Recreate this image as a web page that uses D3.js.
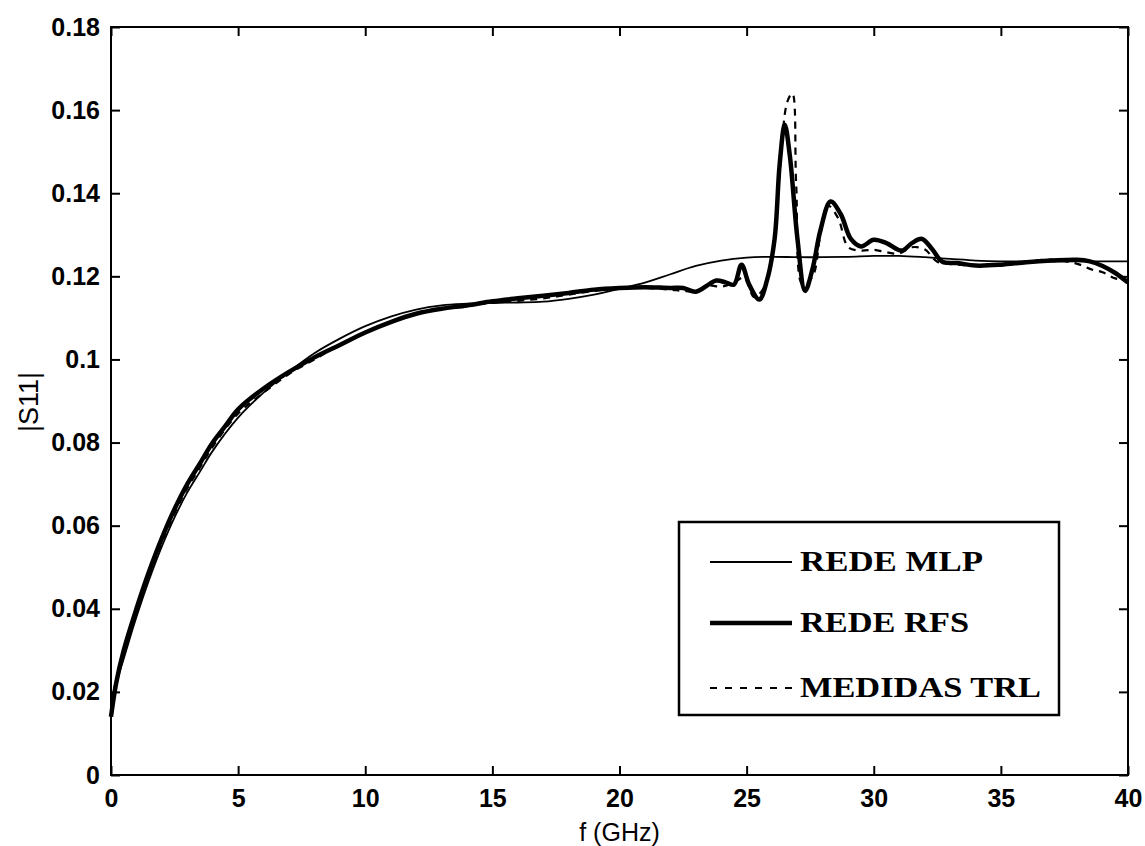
<!DOCTYPE html>
<html>
<head>
<meta charset="utf-8">
<script src="https://cdn.jsdelivr.net/npm/d3@7"></script>
<style>
  html, body { margin: 0; padding: 0; background: #fff; }
  svg { display: block; }
</style>
</head>
<body>
<svg id="chart" width="1145" height="846"></svg>
<script>
// |S11| versus frequency for three models / measurements

const xTicks = [0, 5, 10, 15, 20, 25, 30, 35, 40];
const yTicks = [0, 0.02, 0.04, 0.06, 0.08, 0.1, 0.12, 0.14, 0.16, 0.18];
const yTickLabels = ["0", "0.02", "0.04", "0.06", "0.08", "0.1", "0.12", "0.14", "0.16", "0.18"];

const seriesNames = ["REDE MLP", "REDE RFS", "MEDIDAS TRL"];

// REDE MLP (thin solid)
const freqMLP = [0, 0.5, 1, 1.5, 2, 2.5, 3, 3.5, 4, 5, 6, 7, 8, 9, 10, 11, 12, 13, 14, 15, 16, 17, 18, 19, 20, 21, 22, 23, 24, 25, 26, 27, 28, 29, 30, 31, 32, 33, 34, 35, 36, 37, 38, 39, 40];
const mlp = [0.018, 0.028, 0.038, 0.047, 0.055, 0.062, 0.068, 0.073, 0.078, 0.086, 0.092, 0.097, 0.1015, 0.105, 0.108, 0.1103, 0.1120, 0.1130, 0.1134, 0.1136, 0.1137, 0.1139, 0.1146, 0.1156, 0.1170, 0.1185, 0.1205, 0.1225, 0.1238, 0.1245, 0.1247, 0.1246, 0.1246, 0.1247, 0.1249, 0.1249, 0.1246, 0.1242, 0.1238, 0.1236, 0.1236, 0.1236, 0.1236, 0.1236, 0.1236];

// REDE RFS (thick solid)
const freqRFS = [0, 0.2, 0.5, 1, 1.5, 2, 2.5, 3, 3.5, 4, 4.5, 5, 6, 7, 8, 9, 10, 11, 12, 13, 14, 15, 16, 17, 18, 19, 20, 21, 22, 22.5, 23, 23.5, 23.8, 24.2, 24.5, 24.8, 25.1, 25.5, 25.8, 26.1, 26.3, 26.5, 26.7, 27.0, 27.3, 27.6, 27.9, 28.3, 28.7, 29.1, 29.5, 30.0, 30.5, 31.1, 31.5, 31.9, 32.3, 32.7, 33.3, 34, 35, 36, 37, 38, 38.5, 39, 39.5, 40];
const rfs = [0.014, 0.022, 0.030, 0.040, 0.049, 0.057, 0.064, 0.070, 0.075, 0.080, 0.084, 0.088, 0.093, 0.097, 0.1005, 0.1035, 0.1065, 0.109, 0.111, 0.1122, 0.1130, 0.1140, 0.1147, 0.1153, 0.1160, 0.1168, 0.1172, 0.1174, 0.1172, 0.1172, 0.1163, 0.1180, 0.1190, 0.1185, 0.1180, 0.1228, 0.1180, 0.1144, 0.1190, 0.1290, 0.1470, 0.1565, 0.1490, 0.1290, 0.1165, 0.1220, 0.1310, 0.1380, 0.1350, 0.1290, 0.1272, 0.1288, 0.1280, 0.1262, 0.1280, 0.1290, 0.1265, 0.1235, 0.1232, 0.1226, 0.1228, 0.1234, 0.1238, 0.1240, 0.1236, 0.1225, 0.1208, 0.1185];

// MEDIDAS TRL (dashed)
const freqTRL = [0, 0.5, 1, 1.5, 2, 2.5, 3, 3.5, 4, 5, 6, 7, 8, 9, 10, 11, 12, 13, 14, 15, 16, 17, 18, 19, 20, 21, 22, 22.5, 23, 23.5, 24, 24.5, 24.9, 25.3, 25.7, 26.0, 26.3, 26.6, 26.8, 26.95, 27.2, 27.6, 27.9, 28.2, 28.6, 29.0, 29.5, 30, 30.5, 31, 31.5, 32, 32.5, 33, 34, 35, 36, 37, 38, 38.6, 39, 39.5, 40];
const trl = [0.018, 0.029, 0.039, 0.048, 0.056, 0.063, 0.069, 0.074, 0.079, 0.087, 0.092, 0.0965, 0.100, 0.1035, 0.1065, 0.109, 0.111, 0.1122, 0.1130, 0.1136, 0.1141, 0.1147, 0.1156, 0.1165, 0.1171, 0.1172, 0.1168, 0.1165, 0.1165, 0.1178, 0.1175, 0.1185, 0.1197, 0.1150, 0.1175, 0.1250, 0.1450, 0.1620, 0.1640, 0.1420, 0.1180, 0.1200, 0.1300, 0.1370, 0.1340, 0.1270, 0.1262, 0.1264, 0.1258, 0.1255, 0.1270, 0.1265, 0.1235, 0.1230, 0.1225, 0.1228, 0.1235, 0.1240, 0.1230, 0.1216, 0.1210, 0.1195, 0.1190];

const svg = d3.select("#chart");
const plotLeft = 111, plotRight = 1128, plotTop = 27, plotBottom = 775;

const x = d3.scaleLinear().domain([0, 40]).range([plotLeft, plotRight]);
const y = d3.scaleLinear().domain([0, 0.18]).range([plotBottom, plotTop]);

const axisFont = "'Liberation Sans', Arial, Helvetica, sans-serif";
const tickLen = 9;

// plot frame
svg.append("rect")
  .attr("x", plotLeft).attr("y", plotTop)
  .attr("width", plotRight - plotLeft).attr("height", plotBottom - plotTop)
  .attr("fill", "none").attr("stroke", "#000").attr("stroke-width", 2);

// inward ticks on all four sides
const xAxisB = d3.axisBottom(x).tickValues(xTicks).tickSizeInner(-tickLen).tickSizeOuter(0).tickPadding(14).tickFormat(d3.format("d"));
const xAxisT = d3.axisTop(x).tickValues(xTicks).tickSizeInner(-tickLen).tickSizeOuter(0).tickFormat("");
const yAxisL = d3.axisLeft(y).tickValues(yTicks).tickSizeInner(-tickLen).tickSizeOuter(0).tickPadding(11).tickFormat((d, i) => yTickLabels[i]);
const yAxisR = d3.axisRight(y).tickValues(yTicks).tickSizeInner(-tickLen).tickSizeOuter(0).tickFormat("");

function styleAxis(g) {
  g.select(".domain").remove();
  g.selectAll(".tick line").attr("stroke", "#000").attr("stroke-width", 2);
  g.selectAll(".tick text")
    .attr("fill", "#000")
    .style("font-family", axisFont)
    .style("font-weight", "bold")
    .style("font-size", "25px");
}

svg.append("g").attr("transform", `translate(0,${plotBottom})`).call(xAxisB).call(styleAxis);
svg.append("g").attr("transform", `translate(0,${plotTop})`).call(xAxisT).call(styleAxis);
svg.append("g").attr("transform", `translate(${plotLeft},0)`).call(yAxisL).call(styleAxis);
svg.append("g").attr("transform", `translate(${plotRight},0)`).call(yAxisR).call(styleAxis);

// axis titles
svg.append("text")
  .attr("x", x(20)).attr("y", 841)
  .attr("text-anchor", "middle")
  .style("font-family", axisFont).style("font-size", "25px")
  .text("f (GHz)");

svg.append("text")
  .attr("transform", `translate(38,402) rotate(-90)`)
  .attr("text-anchor", "middle")
  .style("font-family", axisFont).style("font-size", "27px")
  .text("|S11|");

// curves
const line = d3.line().curve(d3.curveCatmullRom.alpha(0.5));
const toPts = (fs, vs) => fs.map((f, i) => [x(f), y(vs[i])]);

const plot = svg.append("g");

plot.append("path")
  .attr("d", line(toPts(freqMLP, mlp)))
  .attr("fill", "none").attr("stroke", "#000").attr("stroke-width", 1.8);

plot.append("path")
  .attr("d", line(toPts(freqTRL, trl)))
  .attr("fill", "none").attr("stroke", "#000").attr("stroke-width", 2.2)
  .attr("stroke-dasharray", "7,6");

plot.append("path")
  .attr("d", line(toPts(freqRFS, rfs)))
  .attr("fill", "none").attr("stroke", "#000").attr("stroke-width", 4.5)
  .attr("stroke-linejoin", "round");

// legend
const legend = svg.append("g");
legend.append("rect")
  .attr("x", 679).attr("y", 522)
  .attr("width", 1059 - 679).attr("height", 715 - 522)
  .attr("fill", "#fff").attr("stroke", "#000").attr("stroke-width", 2.5);

const legendRows = [
  { y: 562, width: 1.8, dash: null, textLen: 183 },
  { y: 623, width: 4.5, dash: null, textLen: 169 },
  { y: 688, width: 2.2, dash: "7,8", textLen: 241 }
];

legendRows.forEach((r, i) => {
  legend.append("line")
    .attr("x1", 710).attr("x2", 792)
    .attr("y1", r.y).attr("y2", r.y)
    .attr("stroke", "#000").attr("stroke-width", r.width)
    .attr("stroke-dasharray", r.dash);
  legend.append("text")
    .attr("x", 800).attr("y", r.y + 9)
    .attr("textLength", r.textLen).attr("lengthAdjust", "spacingAndGlyphs")
    .style("font-family", "'Liberation Serif', 'Times New Roman', serif")
    .style("font-weight", "bold")
    .style("font-size", "30px")
    .text(seriesNames[i]);
});
</script>
</body>
</html>
